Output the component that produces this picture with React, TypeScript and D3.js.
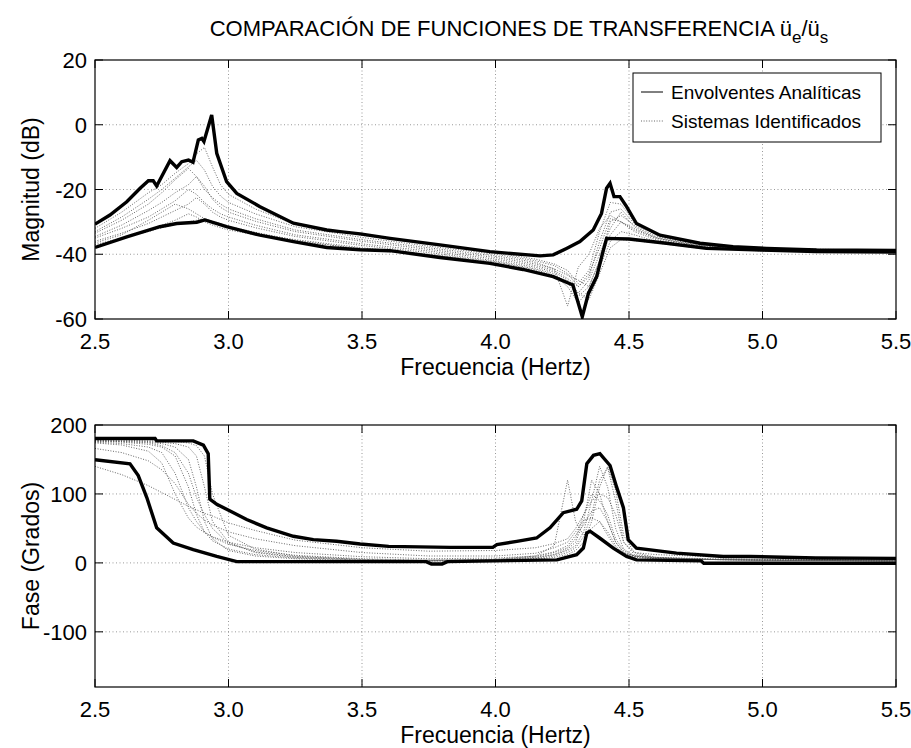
import React from 'react';
import * as d3 from 'd3';

// ---------- DATA ----------
const FREQ_TICKS = [2.5, 3.0, 3.5, 4.0, 4.5, 5.0, 5.5];
const MAG_TICKS = [20, 0, -20, -40, -60];
const PHASE_TICKS = [200, 100, 0, -100];

// Magnitude: analytic envelopes
const MAG_UP_F = [2.5, 2.556, 2.619, 2.669, 2.7, 2.718, 2.731, 2.781, 2.806, 2.825, 2.85, 2.867, 2.887, 2.9, 2.908, 2.937, 2.956, 2.993, 3.031, 3.118, 3.243, 3.368, 3.418, 3.493, 3.605, 3.792, 3.979, 4.167, 4.216, 4.266, 4.316, 4.366, 4.397, 4.416, 4.429, 4.444, 4.466, 4.491, 4.528, 4.616, 4.766, 4.89, 5.016, 5.203, 5.5];
const MAG_UP_V = [-30.7, -27.9, -23.8, -19.6, -17.3, -17.3, -18.9, -11.1, -13.2, -11.4, -10.9, -11.6, -4.7, -4.2, -5.2, 3.0, -8.8, -17.6, -21.2, -25.3, -30.4, -32.5, -33.0, -33.7, -35.1, -37.1, -39.2, -40.5, -40.2, -38.2, -36.1, -32.5, -27.4, -19.6, -18.1, -22.2, -22.2, -25.3, -30.5, -34.1, -36.6, -37.7, -38.2, -38.7, -38.8];
const MAG_LO_F = [2.5, 2.619, 2.743, 2.806, 2.881, 2.912, 2.993, 3.118, 3.243, 3.368, 3.493, 3.605, 3.792, 3.979, 4.103, 4.216, 4.29, 4.325, 4.348, 4.379, 4.4, 4.416, 4.5, 4.64, 4.79, 5.0, 5.2, 5.5];
const MAG_LO_V = [-37.9, -34.6, -31.5, -30.5, -30.1, -29.4, -31.5, -34.1, -36.1, -37.9, -38.6, -38.9, -41.0, -42.8, -44.7, -46.9, -49.5, -59.3, -52.1, -46.9, -40, -35.1, -35.3, -36.6, -38.2, -38.7, -39.2, -39.3];

// Magnitude: identified systems
const MAG_ID_F = [2.5, 2.6, 2.7, 2.75, 2.8, 2.85, 2.88, 2.91, 2.94, 2.97, 3.0, 3.1, 3.25, 3.5, 3.75, 4.0, 4.15, 4.22, 4.27, 4.31, 4.35, 4.39, 4.43, 4.47, 4.52, 4.6, 4.75, 5.0, 5.5];
const MAG_ID_1 = [-32, -27, -21, -18.5, -15, -12, -9, -7, -13, -18.5, -21.5, -26, -30.8, -34.2, -37, -39.6, -41.5, -43, -45, -49, -45, -33, -24, -24.5, -30, -33.8, -36.7, -38.2, -38.8];
const MAG_ID_2 = [-33, -28.5, -23, -20, -16.5, -13, -11, -14, -19, -22, -24, -27.5, -31.5, -34.8, -37.5, -40, -42, -43.5, -46, -50, -47, -36, -27, -26, -30.5, -34, -36.8, -38.3, -38.9];
const MAG_ID_3 = [-33.5, -29.5, -24.5, -21, -17, -13.5, -16, -20, -22.5, -24.5, -26, -29, -32.5, -35.5, -38, -40.5, -42.5, -44.5, -56, -44, -40, -32, -28, -30, -32.5, -35, -37.3, -38.5, -39];
const MAG_ID_4 = [-34.5, -31, -26.5, -24, -21, -18.5, -16, -19, -23, -25.5, -27, -29.8, -33, -36, -38.5, -41, -43, -44.5, -46.5, -48, -50, -42, -30, -28, -31, -34.5, -37, -38.5, -39];
const MAG_ID_5 = [-35, -32, -28.5, -26, -23.5, -20, -21.5, -24, -26, -27.5, -28.5, -31, -34, -36.8, -39, -41.5, -43.5, -45, -47.5, -50, -46, -38, -29, -30, -32, -35, -37.2, -38.6, -39];
const MAG_ID_6 = [-36, -33.5, -30.5, -28.5, -26.5, -24.5, -22.5, -24.5, -27, -28.5, -29.5, -31.8, -34.5, -37.3, -39.5, -42, -44, -45.5, -48, -52, -48, -40, -32, -27, -31.5, -34.8, -37.3, -38.7, -39.1];
const MAG_ID_7 = [-36.5, -34, -29.5, -27, -24.5, -26, -27.5, -29, -30.5, -31.2, -32, -33.6, -35.5, -38, -40, -42.3, -44.5, -46, -49, -53, -50, -42, -34, -30, -33, -35.5, -37.5, -38.8, -39.2];
const MAG_ID_8 = [-37, -35, -32.5, -31, -29.5, -27.5, -28.5, -30, -31, -31.8, -32.5, -34, -36, -38.3, -40.2, -42.5, -44.8, -46.5, -50, -55, -51, -44, -36, -33, -34, -36, -37.7, -39, -39.3];
const MAG_ID_9 = [-37.5, -35, -33, -31.8, -30.8, -30, -29.5, -29, -29.8, -30.5, -31.4, -33.2, -35.7, -38.5, -40.3, -42.8, -45.3, -46.8, -48.5, -52, -54, -46, -38, -35.5, -35.8, -36.5, -38, -39, -39.3];

// Phase: analytic envelopes
const PH_UP_F = [2.5, 2.725, 2.731, 2.868, 2.906, 2.924, 2.93, 2.956, 3.006, 3.068, 3.143, 3.243, 3.318, 3.405, 3.493, 3.6, 3.83, 3.99, 4.005, 4.08, 4.154, 4.204, 4.254, 4.304, 4.323, 4.342, 4.367, 4.391, 4.429, 4.454, 4.479, 4.497, 4.528, 4.678, 4.853, 4.953, 5.2, 5.5];
const PH_UP_V = [180.5, 180.5, 177, 177, 170.7, 158.5, 92.5, 85, 75.3, 63, 50.8, 38.6, 33.8, 31.3, 27.4, 24, 22.5, 22.5, 26.4, 31.3, 36.1, 50.8, 72.8, 77.8, 90, 143.8, 156, 158.5, 141.3, 109.5, 80.1, 33.8, 21.5, 14.1, 9.3, 9.3, 7, 6.5];
const PH_LO_F = [2.5, 2.631, 2.662, 2.694, 2.731, 2.793, 2.868, 2.956, 3.031, 3.49, 3.74, 3.76, 3.8, 3.82, 4.23, 4.304, 4.329, 4.342, 4.354, 4.39, 4.441, 4.491, 4.528, 4.77, 4.78, 5.5];
const PH_LO_V = [149.6, 143.8, 126.6, 94.8, 50.8, 28.8, 19.1, 9.3, 1.9, 1.9, 1.9, -1.5, -1.5, 1.9, 4.4, 11.8, 21.5, 43.5, 46, 36.1, 21.5, 9.3, 4.4, 3, -0.6, -0.6];

// Phase: identified systems
const PH_ID_F = [2.5, 2.6, 2.7, 2.75, 2.8, 2.85, 2.88, 2.91, 2.94, 3.0, 3.1, 3.25, 3.5, 3.75, 4.0, 4.15, 4.22, 4.27, 4.3, 4.33, 4.36, 4.39, 4.42, 4.45, 4.48, 4.52, 4.6, 4.8, 5.0, 5.5];
const PH_ID_1 = [177, 177, 176, 175, 173, 168, 155, 110, 60, 30, 15, 8, 4, 3, 3, 5, 8, 12, 18, 30, 60, 110, 140, 105, 40, 15, 8, 5, 4, 3];
const PH_ID_2 = [177, 176, 175, 173, 168, 150, 110, 60, 35, 18, 10, 6, 3, 3, 4, 7, 12, 18, 25, 45, 90, 140, 110, 50, 20, 10, 7, 5, 4, 3];
const PH_ID_3 = [176, 175, 172, 168, 155, 110, 70, 45, 32, 20, 12, 7, 4, 3, 4, 8, 12, 20, 30, 60, 120, 100, 60, 30, 15, 9, 6, 5, 4, 3];
const PH_ID_4 = [175, 173, 168, 160, 130, 80, 60, 45, 37, 27, 18, 11, 6, 4, 5, 9, 15, 22, 35, 70, 100, 90, 70, 35, 18, 10, 7, 5, 4, 3];
const PH_ID_5 = [174, 171, 162, 145, 100, 65, 52, 44, 38, 30, 22, 15, 9, 6, 7, 10, 16, 25, 40, 55, 75, 80, 60, 30, 15, 10, 7, 5, 4, 3];
const PH_ID_6 = [166, 160, 148, 135, 115, 85, 72, 62, 55, 45, 35, 25, 15, 10, 10, 14, 22, 30, 45, 62, 65, 60, 40, 22, 14, 10, 8, 6, 5, 4];
const PH_ID_7 = [140, 128, 112, 102, 92, 82, 77, 72, 68, 58, 47, 33, 22, 17, 18, 22, 28, 35, 50, 70, 90, 100, 95, 70, 30, 15, 12, 9, 8, 6];
const PH_ID_8 = [178, 178, 177, 177, 176, 174, 170, 155, 100, 40, 20, 10, 5, 3, 3, 6, 10, 15, 22, 38, 70, 120, 138, 90, 30, 12, 8, 5, 4, 3];
const PH_ID_9 = [177, 176, 174, 170, 160, 130, 95, 70, 50, 28, 16, 9, 5, 4, 5, 10, 25, 120, 60, 40, 50, 60, 45, 25, 12, 8, 6, 5, 4, 3];

const MAG_ID = [MAG_ID_1, MAG_ID_2, MAG_ID_3, MAG_ID_4, MAG_ID_5, MAG_ID_6, MAG_ID_7, MAG_ID_8, MAG_ID_9];
const PH_ID = [PH_ID_1, PH_ID_2, PH_ID_3, PH_ID_4, PH_ID_5, PH_ID_6, PH_ID_7, PH_ID_8, PH_ID_9];

const LEGEND_LABELS = ['Envolventes Analíticas', 'Sistemas Identificados'];

// ---------- LAYOUT ----------
const W = 911;
const H = 748;
const X0 = 95;
const X1 = 896;
const FONT = 'Liberation Sans, Arial, Helvetica, sans-serif';

const x = d3.scaleLinear().domain([2.5, 5.5]).range([X0, X1]);

type PanelProps = {
  id: string;
  top: number;
  bottom: number;
  domain: [number, number];
  ticks: number[];
  ylabel: string;
  upF: number[];
  upV: number[];
  loF: number[];
  loV: number[];
  idF: number[];
  ids: number[][];
};

function Panel(p: PanelProps) {
  const y = d3.scaleLinear().domain(p.domain).range([p.bottom, p.top]);
  const line = (fs: number[], vs: number[]) =>
    d3
      .line<number>()
      .x((_, i) => x(fs[i]))
      .y((v) => y(v))(vs) || '';
  const tl = 8;
  return (
    <g>
      <defs>
        <clipPath id={p.id}>
          <rect x={X0} y={p.top} width={X1 - X0} height={p.bottom - p.top} />
        </clipPath>
      </defs>
      <rect x={X0} y={p.top} width={X1 - X0} height={p.bottom - p.top} fill="#fff" />
      {/* grid */}
      {FREQ_TICKS.slice(1, -1).map((t) => (
        <line key={'gx' + t} x1={x(t)} x2={x(t)} y1={p.top} y2={p.bottom} stroke="#555" strokeWidth={0.6} strokeDasharray="1 2.5" />
      ))}
      {p.ticks.filter((t) => t > p.domain[0] && t < p.domain[1]).map((t) => (
        <line key={'gy' + t} x1={X0} x2={X1} y1={y(t)} y2={y(t)} stroke="#555" strokeWidth={0.6} strokeDasharray="1 2.5" />
      ))}
      <g clipPath={`url(#${p.id})`}>
        {p.ids.map((vs, i) => (
          <path key={'id' + i} d={line(p.idF, vs)} fill="none" stroke="#555" strokeWidth={0.9} strokeDasharray="1 1.6" />
        ))}
        <path d={line(p.loF, p.loV)} fill="none" stroke="#000" strokeWidth={3.4} strokeLinejoin="miter" />
        <path d={line(p.upF, p.upV)} fill="none" stroke="#000" strokeWidth={3.4} strokeLinejoin="miter" />
      </g>
      {/* box */}
      <rect x={X0} y={p.top} width={X1 - X0} height={p.bottom - p.top} fill="none" stroke="#000" strokeWidth={1.2} />
      {/* ticks */}
      {FREQ_TICKS.map((t) => (
        <g key={'tx' + t}>
          <line x1={x(t)} x2={x(t)} y1={p.bottom} y2={p.bottom - tl} stroke="#000" strokeWidth={1} />
          <line x1={x(t)} x2={x(t)} y1={p.top} y2={p.top + tl} stroke="#000" strokeWidth={1} />
          <text x={x(t)} y={p.bottom + 30} textAnchor="middle" fontFamily={FONT} fontSize={22}>
            {t.toFixed(1)}
          </text>
        </g>
      ))}
      {p.ticks.map((t) => (
        <g key={'ty' + t}>
          <line x1={X0} x2={X0 + tl} y1={y(t)} y2={y(t)} stroke="#000" strokeWidth={1} />
          <line x1={X1} x2={X1 - tl} y1={y(t)} y2={y(t)} stroke="#000" strokeWidth={1} />
          <text x={X0 - 8} y={y(t) + 8} textAnchor="end" fontFamily={FONT} fontSize={22}>
            {t}
          </text>
        </g>
      ))}
      <text x={(X0 + X1) / 2} y={p.bottom + 56} textAnchor="middle" fontFamily={FONT} fontSize={23}>
        Frecuencia (Hertz)
      </text>
      <text
        transform={`translate(${39},${(p.top + p.bottom) / 2}) rotate(-90)`}
        textAnchor="middle"
        fontFamily={FONT}
        fontSize={23}
      >
        {p.ylabel}
      </text>
    </g>
  );
}

export default function App() {
  const lx = 633;
  const ly = 73;
  return (
    <svg width={W} height={H} style={{ position: 'absolute', left: 0, top: 0, background: '#fff' }}>
      <rect width={W} height={H} fill="#fff" />
      <text x={519} y={36} textAnchor="middle" fontFamily={FONT} fontSize={22}>
        COMPARACIÓN DE FUNCIONES DE TRANSFERENCIA ü
        <tspan fontSize={17} dy={7}>e</tspan>
        <tspan dy={-7}>/ü</tspan>
        <tspan fontSize={17} dy={7}>s</tspan>
      </text>
      <Panel
        id="clipMag"
        top={60}
        bottom={319}
        domain={[-60, 20]}
        ticks={MAG_TICKS}
        ylabel="Magnitud (dB)"
        upF={MAG_UP_F}
        upV={MAG_UP_V}
        loF={MAG_LO_F}
        loV={MAG_LO_V}
        idF={MAG_ID_F}
        ids={MAG_ID}
      />
      <Panel
        id="clipPh"
        top={425}
        bottom={687}
        domain={[-180, 200]}
        ticks={PHASE_TICKS}
        ylabel="Fase (Grados)"
        upF={PH_UP_F}
        upV={PH_UP_V}
        loF={PH_LO_F}
        loV={PH_LO_V}
        idF={PH_ID_F}
        ids={PH_ID}
      />
      {/* legend */}
      <g>
        <rect x={lx} y={ly} width={881 - lx} height={69} fill="#fff" stroke="#000" strokeWidth={1} />
        <line x1={lx + 8} x2={lx + 30} y1={ly + 19} y2={ly + 19} stroke="#000" strokeWidth={1} />
        <line x1={lx + 8} x2={lx + 30} y1={ly + 48} y2={ly + 48} stroke="#555" strokeWidth={0.9} strokeDasharray="1 1.6" />
        <text x={lx + 38} y={ly + 26} fontFamily={FONT} fontSize={19}>{LEGEND_LABELS[0]}</text>
        <text x={lx + 38} y={ly + 55} fontFamily={FONT} fontSize={19}>{LEGEND_LABELS[1]}</text>
      </g>
    </svg>
  );
}
